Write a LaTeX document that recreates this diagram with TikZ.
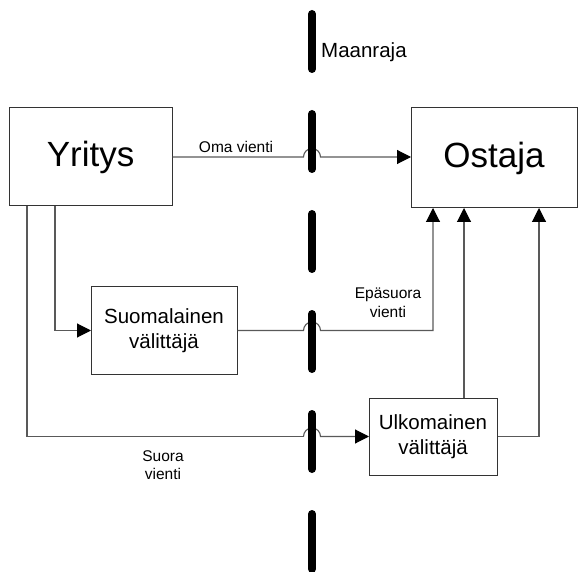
\documentclass[tikz,border=0pt]{standalone}
\usepackage{fontspec}
\setmainfont{Liberation Sans}
\usetikzlibrary{arrows.meta}
\begin{document}
\begin{tikzpicture}[x=1pt,y=1pt,
  box/.style={draw=black!80,line width=1pt,fill=white,inner sep=0pt,align=center},
  conn/.style={draw=black!65,line width=1.1pt},
  arr/.style={conn,-{Triangle[length=14pt,width=14pt,color=black]},shorten >=-0.5pt},
  lbl/.style={font=\fontsize{15.5}{18.5}\selectfont,align=center,inner sep=0pt},
  bigtxt/.style={font=\fontsize{35}{40}\selectfont},
  midtxt/.style={font=\fontsize{20.5}{25}\selectfont},
  border/.style={line width=8pt,line cap=round,black}]
\useasboundingbox (0,0) rectangle (578,571);
% boxes
\node[box,bigtxt,minimum width=163pt,minimum height=98pt] (yr) at (90.5,414) {Yritys};
\node[box,bigtxt,minimum width=166pt,minimum height=100pt] (os) at (494,413) {Ostaja};
\node[box,midtxt,minimum width=146pt,minimum height=87pt] (su) at (164,240.5) {Suomalainen\\välittäjä};
\node[box,midtxt,minimum width=128pt,minimum height=77pt] (ul) at (433,134.5) {Ulkomainen\\välittäjä};
% connectors
\coordinate (b1) at (303.5,414);
\draw[arr] (yr.east |- b1) -- (b1) arc (180:0:8.5) -- (os.west |- b1);
\draw[arr] (yr.south -| 55,0) |- (su.west);
\coordinate (b2) at (303.5,240.5);
\draw[arr] (su.east) -- (b2) arc (180:0:8.5) -| (os.south -| 433,0);
\coordinate (b3) at (303.5,134.5);
\draw[conn] (yr.south -| 27,0) |- (b3);
\draw[arr] (b3) arc (180:0:8.5) -- (ul.west);
\draw[arr] (ul.north -| 464,0) -- (os.south -| 464,0);
\draw[arr] (ul.east) -| (os.south -| 539,0);
% labels
\node[lbl] (l1) at (236,424) {Oma vienti};
\node[lbl] (l2) at (388,268.5) {Epäsuora\\vienti};
\node[lbl] (l3) at (163,106) {Suora\\vienti};
% border
\foreach \k in {0,...,5}{
  \draw[border] (312,{557-100*\k}) -- (312,{502-100*\k});
}
\node[midtxt,anchor=west,inner sep=0pt] (mr) at (321,519) {Maanraja};
\end{tikzpicture}
\end{document}
